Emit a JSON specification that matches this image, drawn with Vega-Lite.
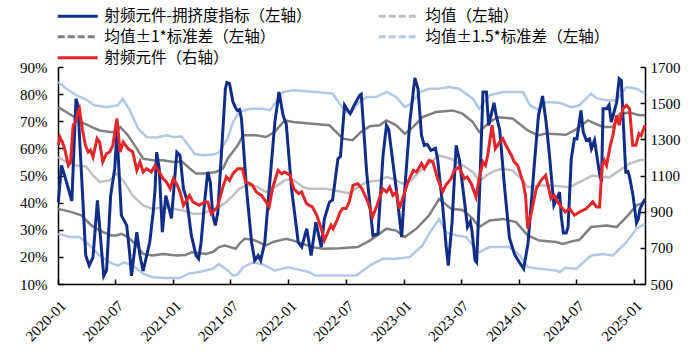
{
  "$schema": "https://vega.github.io/schema/vega-lite/v6.json",
  "width": 587,
  "height": 217,
  "autosize": {"type": "none"},
  "padding": {"left": 58, "top": 67, "right": 53, "bottom": 79},
  "background": "white",
  "config": {
    "view": {"stroke": null},
    "axis": {"grid": false, "domainColor": "#000000", "domainWidth": 1.5, "tickColor": "#000000", "tickWidth": 1.5, "tickSize": -5, "labelFont": "Liberation Serif", "labelFontSize": 15, "labelColor": "#000000", "title": null}
  },
  "datasets": {
    "blue": [
      {"d":"2020-01-02","v":40.2},{"d":"2020-01-12","v":53.7},{"d":"2020-01-17","v":52},{"d":"2020-02-14","v":40.6},{"d":"2020-02-27","v":78.3},{"d":"2020-03-04","v":76},{"d":"2020-03-29","v":20.5},{"d":"2020-04-09","v":16.8},{"d":"2020-04-21","v":19.8},{"d":"2020-05-05","v":40.8},{"d":"2020-05-25","v":13},{"d":"2020-06-03","v":15},{"d":"2020-06-16","v":42.6},{"d":"2020-06-29","v":52.6},{"d":"2020-07-06","v":66},{"d":"2020-07-20","v":35.3},{"d":"2020-08-06","v":31.6},{"d":"2020-08-16","v":20.5},{"d":"2020-08-21","v":13},{"d":"2020-09-07","v":29.1},{"d":"2020-09-17","v":20.5},{"d":"2020-09-27","v":14.8},{"d":"2020-10-18","v":25.4},{"d":"2020-10-29","v":36.5},{"d":"2020-11-04","v":45.1},{"d":"2020-11-09","v":58.6},{"d":"2020-11-17","v":52.6},{"d":"2020-11-27","v":29.1},{"d":"2020-12-08","v":42.6},{"d":"2020-12-26","v":34.2},
      {"d":"2021-01-12","v":58.6},{"d":"2021-01-22","v":57.4},{"d":"2021-02-02","v":45},{"d":"2021-02-12","v":41.4},{"d":"2021-02-27","v":27.9},{"d":"2021-03-14","v":20.5},{"d":"2021-03-22","v":19.3},{"d":"2021-03-30","v":25.4},{"d":"2021-04-10","v":40.2},{"d":"2021-04-20","v":51.3},{"d":"2021-04-28","v":47.6},{"d":"2021-05-06","v":35.3},{"d":"2021-05-14","v":31.6},{"d":"2021-05-22","v":36.5},{"d":"2021-06-02","v":57.4},{"d":"2021-06-15","v":82},{"d":"2021-06-20","v":84.3},{"d":"2021-06-28","v":83.9},{"d":"2021-07-09","v":77.1},{"d":"2021-07-19","v":74.6},{"d":"2021-07-23","v":74},{"d":"2021-07-30","v":74.3},{"d":"2021-08-05","v":71},{"d":"2021-08-21","v":45},{"d":"2021-09-06","v":25.4},{"d":"2021-09-16","v":18.7},{"d":"2021-09-27","v":20.5},{"d":"2021-10-05","v":18.7},{"d":"2021-10-18","v":25.4},{"d":"2021-11-01","v":45},{"d":"2021-11-19","v":69.7},{"d":"2021-12-02","v":80.8},{"d":"2021-12-15","v":72.2},{"d":"2021-12-25","v":69},
      {"d":"2022-01-11","v":45},{"d":"2022-02-01","v":25.4},{"d":"2022-02-12","v":23.6},{"d":"2022-02-28","v":30.4},{"d":"2022-03-14","v":20.5},{"d":"2022-03-29","v":32.8},{"d":"2022-04-15","v":23.6},{"d":"2022-04-25","v":34},{"d":"2022-05-11","v":40.2},{"d":"2022-05-21","v":41},{"d":"2022-06-07","v":56.2},{"d":"2022-06-15","v":57},{"d":"2022-06-28","v":75.9},{"d":"2022-07-08","v":74},{"d":"2022-07-16","v":72.8},{"d":"2022-07-29","v":76},{"d":"2022-08-15","v":79.6},{"d":"2022-08-20","v":80},{"d":"2022-09-06","v":51.3},{"d":"2022-09-26","v":27.9},{"d":"2022-10-12","v":28.5},{"d":"2022-10-28","v":57.4},{"d":"2022-11-08","v":68.5},{"d":"2022-11-15","v":67},{"d":"2022-12-09","v":45},{"d":"2022-12-26","v":27.3},
      {"d":"2023-01-05","v":45},{"d":"2023-01-21","v":69.7},{"d":"2023-02-06","v":86},{"d":"2023-02-16","v":82},{"d":"2023-02-27","v":64.8},{"d":"2023-03-08","v":61.1},{"d":"2023-03-17","v":61.5},{"d":"2023-03-29","v":59.3},{"d":"2023-04-12","v":60},{"d":"2023-04-19","v":56.2},{"d":"2023-05-05","v":39},{"d":"2023-05-16","v":24.2},{"d":"2023-05-23","v":16.8},{"d":"2023-06-04","v":32.8},{"d":"2023-06-17","v":61.1},{"d":"2023-06-27","v":56},{"d":"2023-07-13","v":40.8},{"d":"2023-07-23","v":31},{"d":"2023-08-01","v":33},{"d":"2023-08-06","v":29.7},{"d":"2023-08-16","v":18.7},{"d":"2023-08-21","v":18},{"d":"2023-08-30","v":43.3},{"d":"2023-09-10","v":80.8},{"d":"2023-09-21","v":80.8},{"d":"2023-09-28","v":68.5},{"d":"2023-10-15","v":76.8},{"d":"2023-10-23","v":71.5},{"d":"2023-11-02","v":67},{"d":"2023-11-18","v":45.1},{"d":"2023-12-03","v":27},{"d":"2023-12-19","v":21},{"d":"2023-12-29","v":19},
      {"d":"2024-01-17","v":15.6},{"d":"2024-01-31","v":25},{"d":"2024-02-21","v":55.6},{"d":"2024-03-04","v":72},{"d":"2024-03-17","v":79.3},{"d":"2024-03-28","v":70},{"d":"2024-04-08","v":57.4},{"d":"2024-04-22","v":39},{"d":"2024-04-30","v":41},{"d":"2024-05-10","v":43.9},{"d":"2024-05-15","v":35.3},{"d":"2024-05-22","v":28.8},{"d":"2024-05-31","v":28.8},{"d":"2024-06-06","v":31},{"d":"2024-06-16","v":56},{"d":"2024-06-26","v":63.6},{"d":"2024-07-04","v":63.5},{"d":"2024-07-17","v":74},{"d":"2024-07-24","v":66},{"d":"2024-08-03","v":63},{"d":"2024-08-13","v":63.5},{"d":"2024-08-19","v":59.9},{"d":"2024-08-29","v":63},{"d":"2024-09-13","v":51.3},{"d":"2024-09-20","v":47.6},{"d":"2024-09-25","v":74.6},{"d":"2024-10-06","v":74.6},{"d":"2024-10-14","v":76},{"d":"2024-10-21","v":69.7},{"d":"2024-10-29","v":73},{"d":"2024-11-07","v":77},{"d":"2024-11-15","v":85.7},{"d":"2024-11-22","v":85},{"d":"2024-11-28","v":69.7},{"d":"2024-12-06","v":51.3},{"d":"2024-12-13","v":51.5},{"d":"2024-12-18","v":49.5},{"d":"2024-12-29","v":42.6},{"d":"2025-01-09","v":32.5},{"d":"2025-01-15","v":34},{"d":"2025-01-20","v":37.7},{"d":"2025-02-05","v":41.4}
    ],
    "red": [
      {"d":"2020-01-02","v":1267},{"d":"2020-01-07","v":1313},{"d":"2020-01-15","v":1285},{"d":"2020-01-22","v":1249},{"d":"2020-02-03","v":1156},{"d":"2020-02-10","v":1175},{"d":"2020-02-18","v":1378},{"d":"2020-02-26","v":1396},{"d":"2020-03-04","v":1451},{"d":"2020-03-09","v":1470},{"d":"2020-03-18","v":1359},{"d":"2020-03-28","v":1267},{"d":"2020-04-06","v":1230},{"d":"2020-04-13","v":1240},{"d":"2020-04-21","v":1202},{"d":"2020-05-04","v":1304},{"d":"2020-05-12","v":1285},{"d":"2020-05-22","v":1175},{"d":"2020-06-03","v":1221},{"d":"2020-06-13","v":1230},{"d":"2020-06-23","v":1267},{"d":"2020-07-06","v":1415},{"d":"2020-07-16","v":1230},{"d":"2020-07-26","v":1285},{"d":"2020-08-10","v":1249},{"d":"2020-08-25","v":1230},{"d":"2020-09-07","v":1129},{"d":"2020-09-17","v":1175},{"d":"2020-09-27","v":1119},{"d":"2020-10-08","v":1138},{"d":"2020-10-23","v":1119},{"d":"2020-11-04","v":1156},{"d":"2020-11-14","v":1129},{"d":"2020-11-29","v":1083},{"d":"2020-12-10","v":1064},{"d":"2020-12-22","v":1027},
      {"d":"2021-01-01","v":1083},{"d":"2021-01-13","v":1046},{"d":"2021-01-22","v":1009},{"d":"2021-02-02","v":935},{"d":"2021-02-21","v":990},{"d":"2021-03-04","v":954},{"d":"2021-03-24","v":935},{"d":"2021-04-10","v":954},{"d":"2021-04-20","v":954},{"d":"2021-05-01","v":889},{"d":"2021-05-11","v":908},{"d":"2021-05-21","v":926},{"d":"2021-06-07","v":1036},{"d":"2021-06-18","v":1092},{"d":"2021-06-28","v":1073},{"d":"2021-07-09","v":1110},{"d":"2021-07-24","v":1138},{"d":"2021-08-08","v":1138},{"d":"2021-08-18","v":1064},{"d":"2021-09-01","v":1055},{"d":"2021-09-09","v":1046},{"d":"2021-09-21","v":1009},{"d":"2021-10-07","v":990},{"d":"2021-10-22","v":954},{"d":"2021-11-01","v":926},{"d":"2021-11-11","v":1027},{"d":"2021-11-29","v":1129},{"d":"2021-12-10","v":1110},{"d":"2021-12-20","v":1119},
      {"d":"2022-01-06","v":1101},{"d":"2022-01-18","v":1027},{"d":"2022-02-02","v":1000},{"d":"2022-02-12","v":1009},{"d":"2022-02-27","v":945},{"d":"2022-03-08","v":935},{"d":"2022-03-18","v":926},{"d":"2022-04-01","v":880},{"d":"2022-04-15","v":806},{"d":"2022-04-25","v":742},{"d":"2022-05-02","v":770},{"d":"2022-05-16","v":825},{"d":"2022-05-23","v":806},{"d":"2022-06-04","v":852},{"d":"2022-06-14","v":898},{"d":"2022-06-22","v":917},{"d":"2022-07-03","v":917},{"d":"2022-07-13","v":954},{"d":"2022-07-25","v":1046},{"d":"2022-08-09","v":1055},{"d":"2022-08-22","v":1027},{"d":"2022-09-10","v":954},{"d":"2022-09-25","v":871},{"d":"2022-10-09","v":935},{"d":"2022-10-27","v":1027},{"d":"2022-11-08","v":1009},{"d":"2022-11-18","v":1036},{"d":"2022-11-28","v":990},{"d":"2022-12-09","v":1009},{"d":"2022-12-19","v":917},{"d":"2022-12-29","v":972},
      {"d":"2023-01-15","v":1064},{"d":"2023-02-01","v":1129},{"d":"2023-02-11","v":1119},{"d":"2023-02-27","v":1166},{"d":"2023-03-08","v":1138},{"d":"2023-03-23","v":1184},{"d":"2023-04-04","v":1175},{"d":"2023-04-19","v":1083},{"d":"2023-05-05","v":1009},{"d":"2023-05-15","v":1046},{"d":"2023-06-01","v":1083},{"d":"2023-06-11","v":1129},{"d":"2023-06-26","v":1147},{"d":"2023-07-13","v":1083},{"d":"2023-07-22","v":1092},{"d":"2023-08-04","v":1055},{"d":"2023-08-19","v":981},{"d":"2023-08-29","v":1083},{"d":"2023-09-10","v":1175},{"d":"2023-09-18","v":1156},{"d":"2023-09-25","v":1212},{"d":"2023-10-09","v":1378},{"d":"2023-10-19","v":1249},{"d":"2023-11-02","v":1285},{"d":"2023-11-12","v":1304},{"d":"2023-11-22","v":1267},{"d":"2023-12-09","v":1212},{"d":"2023-12-18","v":1175},{"d":"2023-12-29","v":1156},
      {"d":"2024-01-15","v":1064},{"d":"2024-01-23","v":990},{"d":"2024-01-30","v":806},{"d":"2024-02-11","v":898},{"d":"2024-02-26","v":1027},{"d":"2024-03-12","v":1073},{"d":"2024-03-27","v":1101},{"d":"2024-04-13","v":972},{"d":"2024-04-23","v":990},{"d":"2024-05-04","v":954},{"d":"2024-05-15","v":926},{"d":"2024-05-28","v":898},{"d":"2024-06-11","v":917},{"d":"2024-06-26","v":880},{"d":"2024-07-12","v":898},{"d":"2024-08-03","v":917},{"d":"2024-08-23","v":954},{"d":"2024-09-04","v":926},{"d":"2024-09-14","v":926},{"d":"2024-09-22","v":1156},{"d":"2024-09-29","v":1184},{"d":"2024-10-06","v":1156},{"d":"2024-10-18","v":1267},{"d":"2024-10-26","v":1322},{"d":"2024-11-07","v":1433},{"d":"2024-11-15","v":1378},{"d":"2024-11-27","v":1470},{"d":"2024-12-08","v":1488},{"d":"2024-12-18","v":1470},{"d":"2024-12-28","v":1267},{"d":"2025-01-07","v":1267},{"d":"2025-01-17","v":1332},{"d":"2025-01-24","v":1322},{"d":"2025-02-05","v":1378}
    ],
    "mean": [
      {"d":"2020-01-02","v":56.8},{"d":"2020-01-27","v":55},{"d":"2020-02-28","v":53.7},{"d":"2020-03-30","v":53.3},{"d":"2020-04-21","v":50},{"d":"2020-05-12","v":47.6},{"d":"2020-06-13","v":48.2},{"d":"2020-07-04","v":50.7},{"d":"2020-07-29","v":47.6},{"d":"2020-08-25","v":42.6},{"d":"2020-09-27","v":39},{"d":"2020-10-28","v":37.7},{"d":"2020-11-29","v":38.3},{"d":"2021-01-01","v":37.7},{"d":"2021-02-02","v":37.1},{"d":"2021-03-04","v":35.9},{"d":"2021-04-05","v":35.9},{"d":"2021-04-25","v":37.1},{"d":"2021-05-16","v":37.7},{"d":"2021-06-18","v":40.2},{"d":"2021-07-09","v":42.6},{"d":"2021-07-29","v":45.1},{"d":"2021-08-20","v":46.3},{"d":"2021-09-21","v":46},{"d":"2021-10-12","v":44.5},{"d":"2021-10-27","v":43.9},{"d":"2021-11-18","v":45.7},{"d":"2021-12-20","v":48.2},{"d":"2022-01-11","v":48.8},{"d":"2022-02-17","v":45.7},{"d":"2022-03-08","v":45.1},{"d":"2022-04-30","v":45.1},{"d":"2022-06-22","v":43.9},{"d":"2022-07-13","v":43.5},{"d":"2022-08-09","v":45.7},{"d":"2022-09-06","v":47.6},{"d":"2022-10-17","v":48.2},{"d":"2022-11-08","v":49.4},{"d":"2022-11-28","v":48.8},{"d":"2022-12-29","v":47},{"d":"2023-01-25","v":48.2},{"d":"2023-03-02","v":52.5},{"d":"2023-04-24","v":57.4},{"d":"2023-06-01","v":56.2},{"d":"2023-06-26","v":54.4},{"d":"2023-07-18","v":53},{"d":"2023-08-14","v":50.7},{"d":"2023-08-29","v":47.6},{"d":"2023-09-20","v":50},{"d":"2023-10-21","v":51.9},{"d":"2023-11-12","v":52.5},{"d":"2023-12-13","v":51.9},{"d":"2024-01-10","v":48.8},{"d":"2024-01-30","v":45.7},{"d":"2024-03-07","v":46.3},{"d":"2024-04-08","v":46.3},{"d":"2024-06-11","v":45.7},{"d":"2024-07-12","v":47.6},{"d":"2024-08-23","v":50},{"d":"2024-09-24","v":49.4},{"d":"2024-10-16","v":49.4},{"d":"2024-11-17","v":51.9},{"d":"2024-12-18","v":54.4},{"d":"2025-01-19","v":55.6},{"d":"2025-02-05","v":55.8}
    ],
    "p1": [
      {"d":"2020-01-02","v":75.2},{"d":"2020-01-27","v":73.4},{"d":"2020-02-23","v":71.5},{"d":"2020-03-15","v":69.7},{"d":"2020-04-16","v":67.9},{"d":"2020-05-12","v":66.6},{"d":"2020-06-13","v":66},{"d":"2020-07-04","v":66},{"d":"2020-07-16","v":67.9},{"d":"2020-08-10","v":64.8},{"d":"2020-09-07","v":59.9},{"d":"2020-09-27","v":56.2},{"d":"2020-10-28","v":55.6},{"d":"2020-11-29","v":55.6},{"d":"2021-01-01","v":55},{"d":"2021-01-27","v":55.2},{"d":"2021-02-23","v":52.5},{"d":"2021-03-14","v":50.7},{"d":"2021-04-15","v":50.7},{"d":"2021-05-16","v":51.3},{"d":"2021-06-07","v":52.5},{"d":"2021-06-22","v":56.2},{"d":"2021-07-24","v":61.1},{"d":"2021-08-10","v":64.8},{"d":"2021-09-21","v":64.8},{"d":"2021-10-22","v":64.2},{"d":"2021-11-18","v":66},{"d":"2021-12-20","v":70.3},{"d":"2022-01-16","v":69.7},{"d":"2022-03-18","v":69.1},{"d":"2022-05-11","v":68.5},{"d":"2022-06-02","v":66},{"d":"2022-06-22","v":63.6},{"d":"2022-07-23","v":63},{"d":"2022-08-19","v":66},{"d":"2022-09-16","v":68.2},{"d":"2022-10-17","v":68.5},{"d":"2022-11-08","v":70.3},{"d":"2022-12-09","v":68.5},{"d":"2023-01-05","v":65.4},{"d":"2023-02-01","v":67.9},{"d":"2023-03-02","v":71.5},{"d":"2023-04-14","v":73.4},{"d":"2023-06-06","v":74},{"d":"2023-07-07","v":72.8},{"d":"2023-08-09","v":69.7},{"d":"2023-08-29","v":66},{"d":"2023-10-01","v":69.7},{"d":"2023-10-26","v":71.5},{"d":"2023-12-13","v":71},{"d":"2024-01-30","v":66.6},{"d":"2024-03-02","v":64.8},{"d":"2024-03-27","v":65.5},{"d":"2024-05-30","v":65},{"d":"2024-06-26","v":66.6},{"d":"2024-08-08","v":70.3},{"d":"2024-09-24","v":67.9},{"d":"2024-10-26","v":67.9},{"d":"2024-11-17","v":72.8},{"d":"2024-12-18","v":73.2},{"d":"2025-01-19","v":72.2},{"d":"2025-02-05","v":72.2}
    ],
    "m1": [
      {"d":"2020-01-02","v":37.7},{"d":"2020-02-13","v":36.5},{"d":"2020-03-15","v":35.3},{"d":"2020-04-16","v":31.6},{"d":"2020-05-12","v":29.7},{"d":"2020-06-18","v":27.9},{"d":"2020-07-04","v":27.9},{"d":"2020-07-20","v":28.5},{"d":"2020-08-10","v":27.3},{"d":"2020-09-07","v":24.2},{"d":"2020-09-27","v":21.1},{"d":"2020-10-28","v":20.5},{"d":"2020-11-29","v":21.1},{"d":"2021-01-11","v":20.5},{"d":"2021-02-08","v":20.7},{"d":"2021-02-28","v":21.7},{"d":"2021-04-15","v":21.1},{"d":"2021-05-06","v":21.8},{"d":"2021-05-26","v":23.6},{"d":"2021-06-13","v":24.2},{"d":"2021-07-18","v":23},{"d":"2021-07-29","v":24.8},{"d":"2021-08-15","v":26.7},{"d":"2021-09-11","v":26.3},{"d":"2021-10-22","v":24.2},{"d":"2021-11-13","v":25.5},{"d":"2021-12-25","v":26.7},{"d":"2022-01-16","v":26},{"d":"2022-03-18","v":23.6},{"d":"2022-04-20","v":23},{"d":"2022-06-12","v":23.2},{"d":"2022-08-09","v":23.6},{"d":"2022-09-16","v":26},{"d":"2022-11-08","v":30.4},{"d":"2022-12-09","v":29.7},{"d":"2023-01-05","v":27.3},{"d":"2023-02-11","v":30.4},{"d":"2023-03-23","v":35.3},{"d":"2023-04-24","v":41.4},{"d":"2023-06-01","v":37.7},{"d":"2023-07-07","v":37.3},{"d":"2023-07-28","v":35.3},{"d":"2023-08-09","v":34},{"d":"2023-08-29","v":31},{"d":"2023-10-01","v":33.4},{"d":"2023-11-12","v":34},{"d":"2023-12-24","v":32.8},{"d":"2024-01-30","v":27.9},{"d":"2024-03-07","v":26},{"d":"2024-04-29","v":25.5},{"d":"2024-05-20","v":24.8},{"d":"2024-06-21","v":25.8},{"d":"2024-07-12","v":26.3},{"d":"2024-08-18","v":31},{"d":"2024-10-06","v":31.6},{"d":"2024-11-07","v":31},{"d":"2024-12-13","v":35.3},{"d":"2025-01-09","v":39},{"d":"2025-02-05","v":40.2}
    ],
    "p15": [
      {"d":"2020-01-02","v":84.5},{"d":"2020-01-27","v":82},{"d":"2020-02-28","v":79.6},{"d":"2020-03-25","v":78.3},{"d":"2020-04-26","v":75.9},{"d":"2020-06-03","v":75.2},{"d":"2020-07-09","v":75.9},{"d":"2020-07-24","v":78.3},{"d":"2020-08-16","v":74},{"d":"2020-09-11","v":67.3},{"d":"2020-10-08","v":64.2},{"d":"2020-11-09","v":64},{"d":"2020-12-10","v":64.8},{"d":"2021-01-01","v":64.2},{"d":"2021-01-27","v":64.4},{"d":"2021-02-18","v":61.1},{"d":"2021-03-09","v":58},{"d":"2021-04-05","v":57.5},{"d":"2021-05-11","v":57.8},{"d":"2021-05-26","v":58.6},{"d":"2021-06-22","v":63.6},{"d":"2021-07-09","v":69.7},{"d":"2021-07-29","v":73.4},{"d":"2021-09-01","v":74.6},{"d":"2021-10-12","v":74.6},{"d":"2021-11-03","v":74},{"d":"2021-12-15","v":80.8},{"d":"2022-01-16","v":81.4},{"d":"2022-03-29","v":80.8},{"d":"2022-05-21","v":80.2},{"d":"2022-06-12","v":76.5},{"d":"2022-07-03","v":73.4},{"d":"2022-07-18","v":73},{"d":"2022-08-09","v":76.5},{"d":"2022-09-06","v":78.9},{"d":"2022-10-07","v":78.9},{"d":"2022-11-08","v":80.8},{"d":"2022-12-09","v":78.9},{"d":"2023-01-05","v":75.2},{"d":"2023-01-25","v":76.5},{"d":"2023-02-22","v":80.8},{"d":"2023-03-23","v":82},{"d":"2023-04-24","v":82},{"d":"2023-05-25","v":82.6},{"d":"2023-06-26","v":82},{"d":"2023-08-09","v":78.3},{"d":"2023-08-29","v":74.6},{"d":"2023-10-01","v":79.6},{"d":"2023-11-12","v":80.8},{"d":"2024-01-15","v":80.8},{"d":"2024-02-06","v":75.9},{"d":"2024-03-07","v":74},{"d":"2024-03-27","v":77.1},{"d":"2024-05-10","v":76.8},{"d":"2024-06-16","v":75.2},{"d":"2024-07-12","v":75.9},{"d":"2024-08-18","v":80.2},{"d":"2024-09-04","v":78.5},{"d":"2024-10-06","v":77.7},{"d":"2024-11-07","v":77.7},{"d":"2024-12-08","v":82.6},{"d":"2025-01-09","v":82},{"d":"2025-02-05","v":80.2}
    ],
    "m15": [
      {"d":"2020-01-02","v":28.5},{"d":"2020-02-08","v":27.3},{"d":"2020-03-09","v":27.3},{"d":"2020-04-11","v":24.2},{"d":"2020-05-12","v":20.5},{"d":"2020-06-13","v":18},{"d":"2020-07-09","v":16.8},{"d":"2020-07-29","v":18},{"d":"2020-08-25","v":16.8},{"d":"2020-09-27","v":13.8},{"d":"2020-10-28","v":12.5},{"d":"2020-12-10","v":12.2},{"d":"2021-01-22","v":12.2},{"d":"2021-02-18","v":13.8},{"d":"2021-03-24","v":14.4},{"d":"2021-05-06","v":15.6},{"d":"2021-05-26","v":17.4},{"d":"2021-06-22","v":15},{"d":"2021-07-09","v":13.1},{"d":"2021-07-24","v":13.5},{"d":"2021-08-10","v":16.2},{"d":"2021-09-11","v":18},{"d":"2021-10-12","v":17.2},{"d":"2021-11-18","v":15},{"d":"2021-12-31","v":16.2},{"d":"2022-03-08","v":14.4},{"d":"2022-03-29","v":13.1},{"d":"2022-06-12","v":13.1},{"d":"2022-08-04","v":13.1},{"d":"2022-09-16","v":16.8},{"d":"2022-10-27","v":19.3},{"d":"2022-12-09","v":19.3},{"d":"2023-01-20","v":19.9},{"d":"2023-03-02","v":24.2},{"d":"2023-03-23","v":28.5},{"d":"2023-04-24","v":34},{"d":"2023-05-15","v":29.1},{"d":"2023-06-16","v":28},{"d":"2023-07-18","v":27.3},{"d":"2023-08-09","v":24.2},{"d":"2023-08-29","v":21.7},{"d":"2023-10-01","v":23.6},{"d":"2023-12-03","v":23.6},{"d":"2024-01-05","v":20.5},{"d":"2024-01-30","v":16.2},{"d":"2024-03-07","v":15.6},{"d":"2024-04-29","v":15},{"d":"2024-05-10","v":14.4},{"d":"2024-05-30","v":16},{"d":"2024-07-02","v":15.6},{"d":"2024-08-18","v":20.5},{"d":"2024-09-24","v":21.1},{"d":"2024-10-26","v":20.5},{"d":"2024-12-08","v":25.4},{"d":"2025-01-09","v":30.4},{"d":"2025-02-05","v":32.2}
    ]
  },
  "encoding": {
    "x": {
      "field": "d", "type": "temporal",
      "scale": {"type": "utc", "domain": [{"year": 2020, "month": 1, "date": 1, "utc": true}, {"year": 2025, "month": 2, "date": 5, "utc": true}]},
      "axis": {
        "format": "%Y-%m", "labelAngle": -45, "labelAlign": "right", "labelBaseline": "top", "labelPadding": 19,
        "values": [
          {"year": 2020, "month": 1, "date": 1, "utc": true}, {"year": 2020, "month": 7, "date": 1, "utc": true},
          {"year": 2021, "month": 1, "date": 1, "utc": true}, {"year": 2021, "month": 7, "date": 1, "utc": true},
          {"year": 2022, "month": 1, "date": 1, "utc": true}, {"year": 2022, "month": 7, "date": 1, "utc": true},
          {"year": 2023, "month": 1, "date": 1, "utc": true}, {"year": 2023, "month": 7, "date": 1, "utc": true},
          {"year": 2024, "month": 1, "date": 1, "utc": true}, {"year": 2024, "month": 7, "date": 1, "utc": true},
          {"year": 2025, "month": 1, "date": 1, "utc": true}
        ]
      }
    }
  },
  "layer": [
    {
      "encoding": {
        "y": {"field": "v", "type": "quantitative", "scale": {"domain": [10, 90], "nice": false},
              "axis": {"orient": "left", "values": [10,20,30,40,50,60,70,80,90], "labelExpr": "datum.value + '%'", "labelPadding": 16}}
      },
      "layer": [
        {"data": {"name": "mean"}, "mark": {"type": "line", "strokeWidth": 2.5},
         "encoding": {"color": {"datum": "均值（左轴）", "type": "nominal",
           "scale": {"domain": ["射频元件-拥挤度指标（左轴）", "均值±1*标准差（左轴）", "射频元件（右轴）", "均值（左轴）", "均值±1.5*标准差（左轴）"],
                     "range": ["#102E87", "#808080", "#E3262A", "#C0C0C0", "#B4C7E7"]},
           "legend": {"orient": "none", "legendX": 12, "legendY": -59, "columns": 2, "columnPadding": 60, "rowPadding": 4,
                      "symbolType": "M-4,0H4", "symbolSize": 100, "symbolStrokeWidth": 3, "labelOffset": 19,
                      "labelFont": "Noto Sans CJK SC", "labelFontSize": 15.5, "labelColor": "#000000", "labelLimit": 400, "title": null, "padding": 0,
                      "encode": {"symbols": {"update": {"strokeDash": {"signal": "indexof(['均值（左轴）','均值±1*标准差（左轴）','均值±1.5*标准差（左轴）'], datum.value) >= 0 ? [7,3] : [1,0]"}}}}}}}},
        {"data": {"name": "p1"}, "mark": {"type": "line", "strokeWidth": 2.5}, "encoding": {"color": {"datum": "均值±1*标准差（左轴）", "type": "nominal"}}},
        {"data": {"name": "m1"}, "mark": {"type": "line", "strokeWidth": 2.5}, "encoding": {"color": {"datum": "均值±1*标准差（左轴）", "type": "nominal"}}},
        {"data": {"name": "p15"}, "mark": {"type": "line", "strokeWidth": 2.5}, "encoding": {"color": {"datum": "均值±1.5*标准差（左轴）", "type": "nominal"}}},
        {"data": {"name": "m15"}, "mark": {"type": "line", "strokeWidth": 2.5}, "encoding": {"color": {"datum": "均值±1.5*标准差（左轴）", "type": "nominal"}}},
        {"data": {"name": "blue"}, "mark": {"type": "line", "strokeWidth": 3}, "encoding": {"color": {"datum": "射频元件-拥挤度指标（左轴）", "type": "nominal"}}}
      ]
    },
    {
      "data": {"name": "red"},
      "mark": {"type": "line", "strokeWidth": 3},
      "encoding": {
        "y": {"field": "v", "type": "quantitative", "scale": {"domain": [500, 1700], "nice": false},
              "axis": {"orient": "right", "values": [500,700,900,1100,1300,1500,1700], "format": "d", "labelPadding": 10}},
        "color": {"datum": "射频元件（右轴）", "type": "nominal"}
      }
    }
  ],
  "resolve": {"scale": {"y": "independent"}}
}
